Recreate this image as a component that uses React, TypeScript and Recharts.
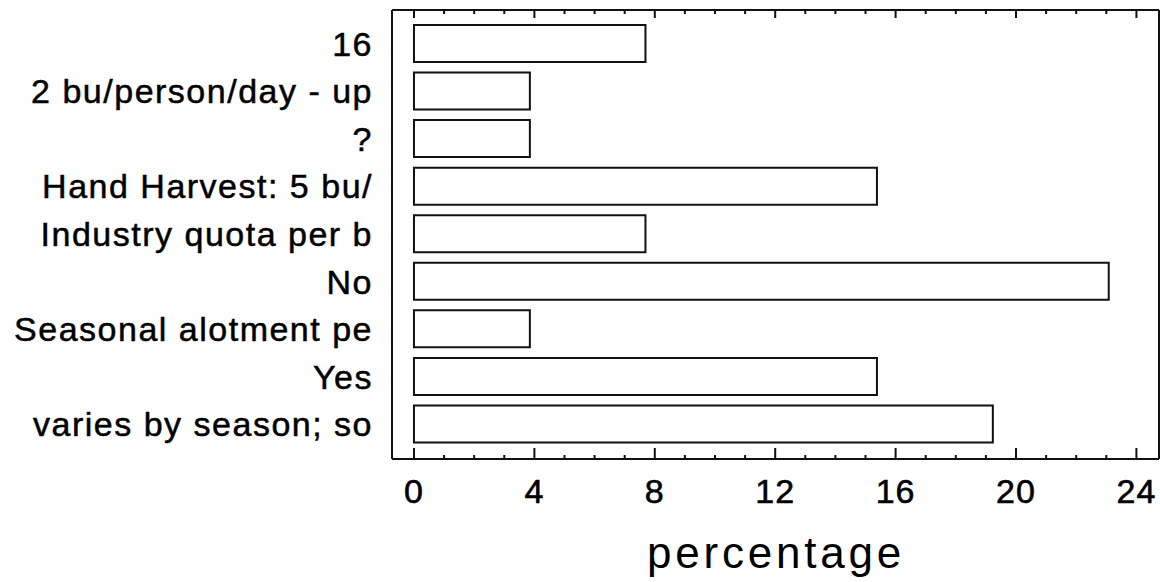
import React from "react";
import { BarChart, Bar, XAxis, YAxis } from "recharts";

const categories = [
  "16",
  "2 bu/person/day - up",
  "?",
  "Hand Harvest: 5 bu/",
  "Industry quota per b",
  "No",
  "Seasonal alotment pe",
  "Yes",
  "varies by season; so",
];

// percentage of 26 responses
const percentages = [7.69, 3.85, 3.85, 15.38, 7.69, 23.08, 3.85, 15.38, 19.23];

const xTicks = [0, 1, 2, 3, 4, 5, 6, 7, 8, 9, 10, 11, 12, 13, 14, 15, 16, 17, 18, 19, 20, 21, 22, 23, 24];
const labelledTicks = [0, 4, 8, 12, 16, 20, 24];

const data = categories.map((name, i) => ({ name, value: percentages[i] }));

const FONT = "'Liberation Sans', Arial, sans-serif";
const INK = "#111";

function BottomTick(props: any) {
  const { x, y, payload } = props;
  const major = labelledTicks.includes(payload.value);
  return (
    <g>
      <line x1={x} x2={x} y1={y} y2={y - (major ? 11 : 4)} stroke={INK} strokeWidth={2} />
      {major && (
        <text x={x} y={y + 44} textAnchor="middle" fontFamily={FONT} fontSize={34} fill="#000"
          stroke="#000" strokeWidth={0.6} letterSpacing={1}>
          {payload.value}
        </text>
      )}
    </g>
  );
}

function TopTick(props: any) {
  const { x, y, payload } = props;
  const major = labelledTicks.includes(payload.value);
  return <line x1={x} x2={x} y1={y} y2={y + (major ? 8 : 4)} stroke={INK} strokeWidth={2} />;
}

function CategoryTick(props: any) {
  const { x, y, payload } = props;
  return (
    <text x={x} y={y} dy={12} textAnchor="end" fontFamily={FONT} fontSize={34} fill="#000"
      stroke="#000" strokeWidth={0.5} letterSpacing={1.5}>
      {payload.value}
    </text>
  );
}

export default function App() {
  return (
    <div style={{ width: 1160, height: 582, background: "#fff" }}>
      <style>{`body{margin:0;background:#fff}`}</style>
      <BarChart
        width={1160}
        height={582}
        data={data}
        layout="vertical"
        margin={{ top: 9, right: 0, bottom: 0, left: 0 }}
      >
        <XAxis
          type="number"
          domain={[-0.73, 24.75]}
          allowDataOverflow
          ticks={xTicks}
          interval={0}
          height={123}
          tickSize={0}
          tickMargin={0}
          tick={<BottomTick />}
          axisLine={{ stroke: INK, strokeWidth: 2 }}
        />
        <XAxis
          xAxisId="top"
          orientation="top"
          type="number"
          domain={[-0.73, 24.75]}
          allowDataOverflow
          ticks={xTicks}
          interval={0}
          height={1}
          tickSize={0}
          tickMargin={0}
          tick={<TopTick />}
          axisLine={{ stroke: INK, strokeWidth: 2 }}
        />
        <YAxis
          type="category"
          dataKey="name"
          width={392}
          interval={0}
          padding={{ top: 10, bottom: 11 }}
          tickSize={0}
          tickMargin={19}
          tick={<CategoryTick />}
          axisLine={{ stroke: INK, strokeWidth: 2 }}
        />
        <YAxis
          yAxisId="right"
          orientation="right"
          type="category"
          dataKey="name"
          width={1}
          tick={false}
          tickLine={false}
          axisLine={{ stroke: INK, strokeWidth: 2 }}
        />
        <Bar dataKey="value" fill="#fff" stroke={INK} strokeWidth={2} barSize={37} isAnimationActive={false} />
        <text x={776} y={568} textAnchor="middle" fontFamily={FONT} fontSize={44} fill="#000" letterSpacing={3.8}>
          percentage
        </text>
      </BarChart>
    </div>
  );
}
